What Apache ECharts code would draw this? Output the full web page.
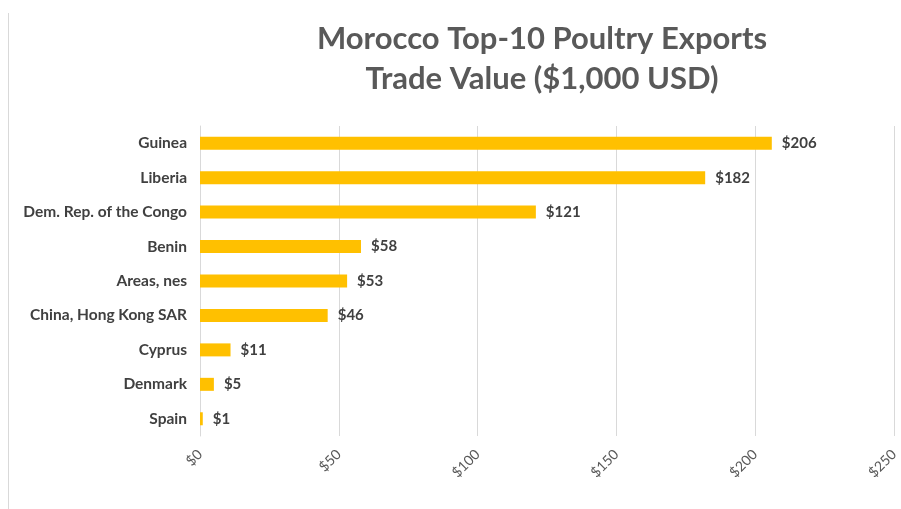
<!DOCTYPE html>
<html>
<head>
    <meta charset="utf-8">
    <script src="https://cdn.jsdelivr.net/npm/echarts@6/dist/echarts.min.js"></script>
    <style>
        html, body { margin: 0; padding: 0; background: #fff; }
    </style>
</head>
<body>
<div id="main" style="width: 901px;height:509px;"></div>
<script type="text/javascript">
    // top to bottom order
    var countries = ['Guinea', 'Liberia', 'Dem. Rep. of the Congo', 'Benin', 'Areas, nes',
        'China, Hong Kong SAR', 'Cyprus', 'Denmark', 'Spain'];
    var values = [206, 182, 121, 58, 53, 46, 11, 5, 1];
    var xTicks = [0, 50, 100, 150, 200, 250];

    var myChart = echarts.init(document.getElementById('main'));
    var font = 'Lato, "Open Sans", sans-serif';

    var option = {
        animation: false,
        backgroundColor: '#fff',
        title: {
            text: 'Morocco Top-10 Poultry Exports\nTrade Value ($1,000 USD)',
            left: 537,
            textAlign: 'center',
            top: 14,
            textStyle: {
                fontFamily: font,
                fontSize: 31,
                fontWeight: 'bold',
                color: '#595959',
                lineHeight: 40
            }
        },
        graphic: [{
            type: 'line',
            shape: { x1: 8.5, y1: 13, x2: 8.5, y2: 509 },
            style: { stroke: '#d9d9d9', lineWidth: 1 }
        }],
        grid: { left: 200, right: 2, top: 126, bottom: 73 },
        xAxis: {
            type: 'value',
            min: xTicks[0],
            max: xTicks[xTicks.length - 1],
            interval: 50,
            axisLine: { show: false },
            axisTick: { show: false },
            splitLine: { lineStyle: { color: '#d9d9d9' } },
            axisLabel: {
                rotate: 45,
                margin: 16,
                fontFamily: font,
                fontSize: 14,
                color: '#595959',
                formatter: function (v) { return '$' + v; }
            }
        },
        yAxis: {
            type: 'category',
            inverse: true,
            data: countries,
            axisLine: { lineStyle: { color: '#d9d9d9' } },
            axisTick: { show: false },
            axisLabel: {
                margin: 13,
                fontFamily: font,
                fontSize: 15.5,
                fontWeight: 'bold',
                color: '#404040'
            }
        },
        series: [{
            type: 'bar',
            data: values,
            barWidth: 13,
            itemStyle: { color: '#FFC000' },
            label: {
                show: true,
                position: 'right',
                distance: 10,
                fontFamily: font,
                fontSize: 15,
                fontWeight: 'bold',
                color: '#404040',
                formatter: function (p) { return '$' + p.value; }
            }
        }]
    };
    myChart.setOption(option);
</script>
</body>
</html>
